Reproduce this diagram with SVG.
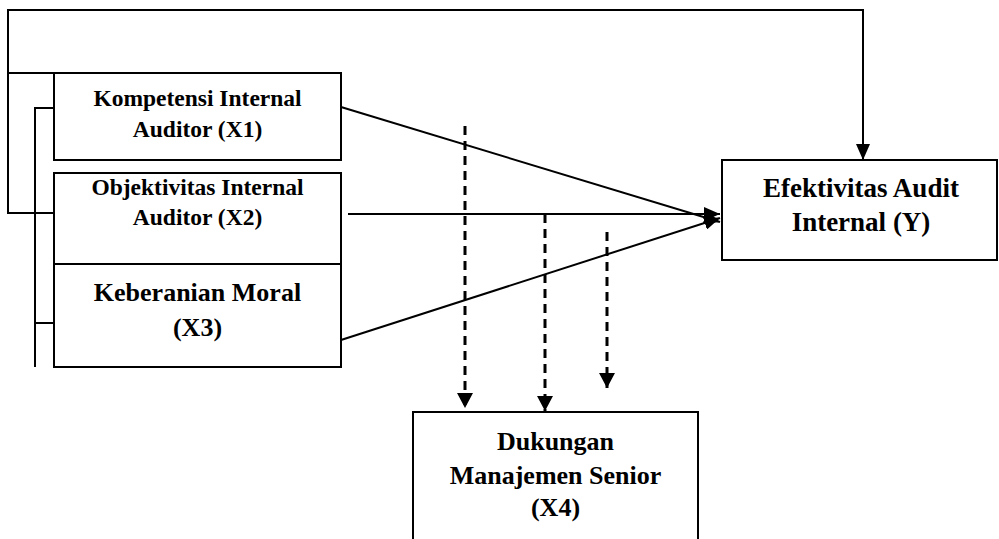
<svg xmlns="http://www.w3.org/2000/svg" width="999" height="539" viewBox="0 0 999 539">
<defs>
<style>
.box{fill:#fff;stroke:#000;stroke-width:2}
.ln{fill:none;stroke:#000;stroke-width:2}
.dash{fill:none;stroke:#000;stroke-width:3;stroke-dasharray:9,6}
.t{font-family:"Liberation Serif","Times New Roman",serif;font-weight:bold;fill:#000;text-anchor:middle}
.s1{font-size:23.5px}
.s2{font-size:26px}
.s3{font-size:27px}
</style>
<marker id="ah" viewBox="0 0 16 14" refX="16" refY="7" markerWidth="16" markerHeight="14" markerUnits="userSpaceOnUse" orient="auto">
<path d="M0,0 L16,7 L0,14 z" fill="#000"/>
</marker>
<marker id="ahd" viewBox="0 0 15 16" refX="15" refY="8" markerWidth="15" markerHeight="16" markerUnits="userSpaceOnUse" orient="auto">
<path d="M0,0 L15,8 L0,16 z" fill="#000"/>
</marker>
</defs>
<rect width="999" height="539" fill="#fff"/>
<g id="connectors">
<path class="ln" d="M54,213 H8 V10 H863 V160" marker-end="url(#ah)"/>
<path class="ln" d="M8,73 H54"/>
<path class="ln" d="M54,108 H35 V367"/>
<path class="ln" d="M35,323 H54"/>
<path class="ln" d="M341,107 L720,222" marker-end="url(#ah)"/>
<path class="ln" d="M348,214 L720,214" marker-end="url(#ah)"/>
<path class="ln" d="M341,340 L720,218" marker-end="url(#ah)"/>
<path class="dash" d="M465,126 V408" marker-end="url(#ahd)"/>
<path class="dash" d="M545,214 V411" marker-end="url(#ahd)"/>
<path class="dash" d="M607,232 V388" marker-end="url(#ahd)"/>
</g>
<g id="x1">
<rect class="box" x="54" y="73" width="287" height="87"/>
<text class="t s1" x="197.5" y="106">Kompetensi Internal</text>
<text class="t s1" x="197.5" y="137">Auditor (X1)</text>
</g>
<g id="x2">
<rect class="box" x="54" y="173" width="287" height="91"/>
<text class="t s1" x="197.5" y="195">Objektivitas Internal</text>
<text class="t s1" x="197.5" y="225">Auditor (X2)</text>
</g>
<g id="x3">
<rect class="box" x="54" y="264" width="287" height="103"/>
<text class="t s2" x="197.5" y="301">Keberanian Moral</text>
<text class="t s2" x="197.5" y="336">(X3)</text>
</g>
<g id="y">
<rect class="box" x="722" y="160" width="275" height="100"/>
<text class="t s3" x="861" y="197">Efektivitas Audit</text>
<text class="t s3" x="861" y="231">Internal (Y)</text>
</g>
<g id="x4">
<rect class="box" x="413" y="412" width="285" height="140"/>
<text class="t s2" x="555.5" y="450">Dukungan</text>
<text class="t s2" x="555.5" y="484">Manajemen Senior</text>
<text class="t s2" x="555.5" y="516">(X4)</text>
</g>
</svg>
